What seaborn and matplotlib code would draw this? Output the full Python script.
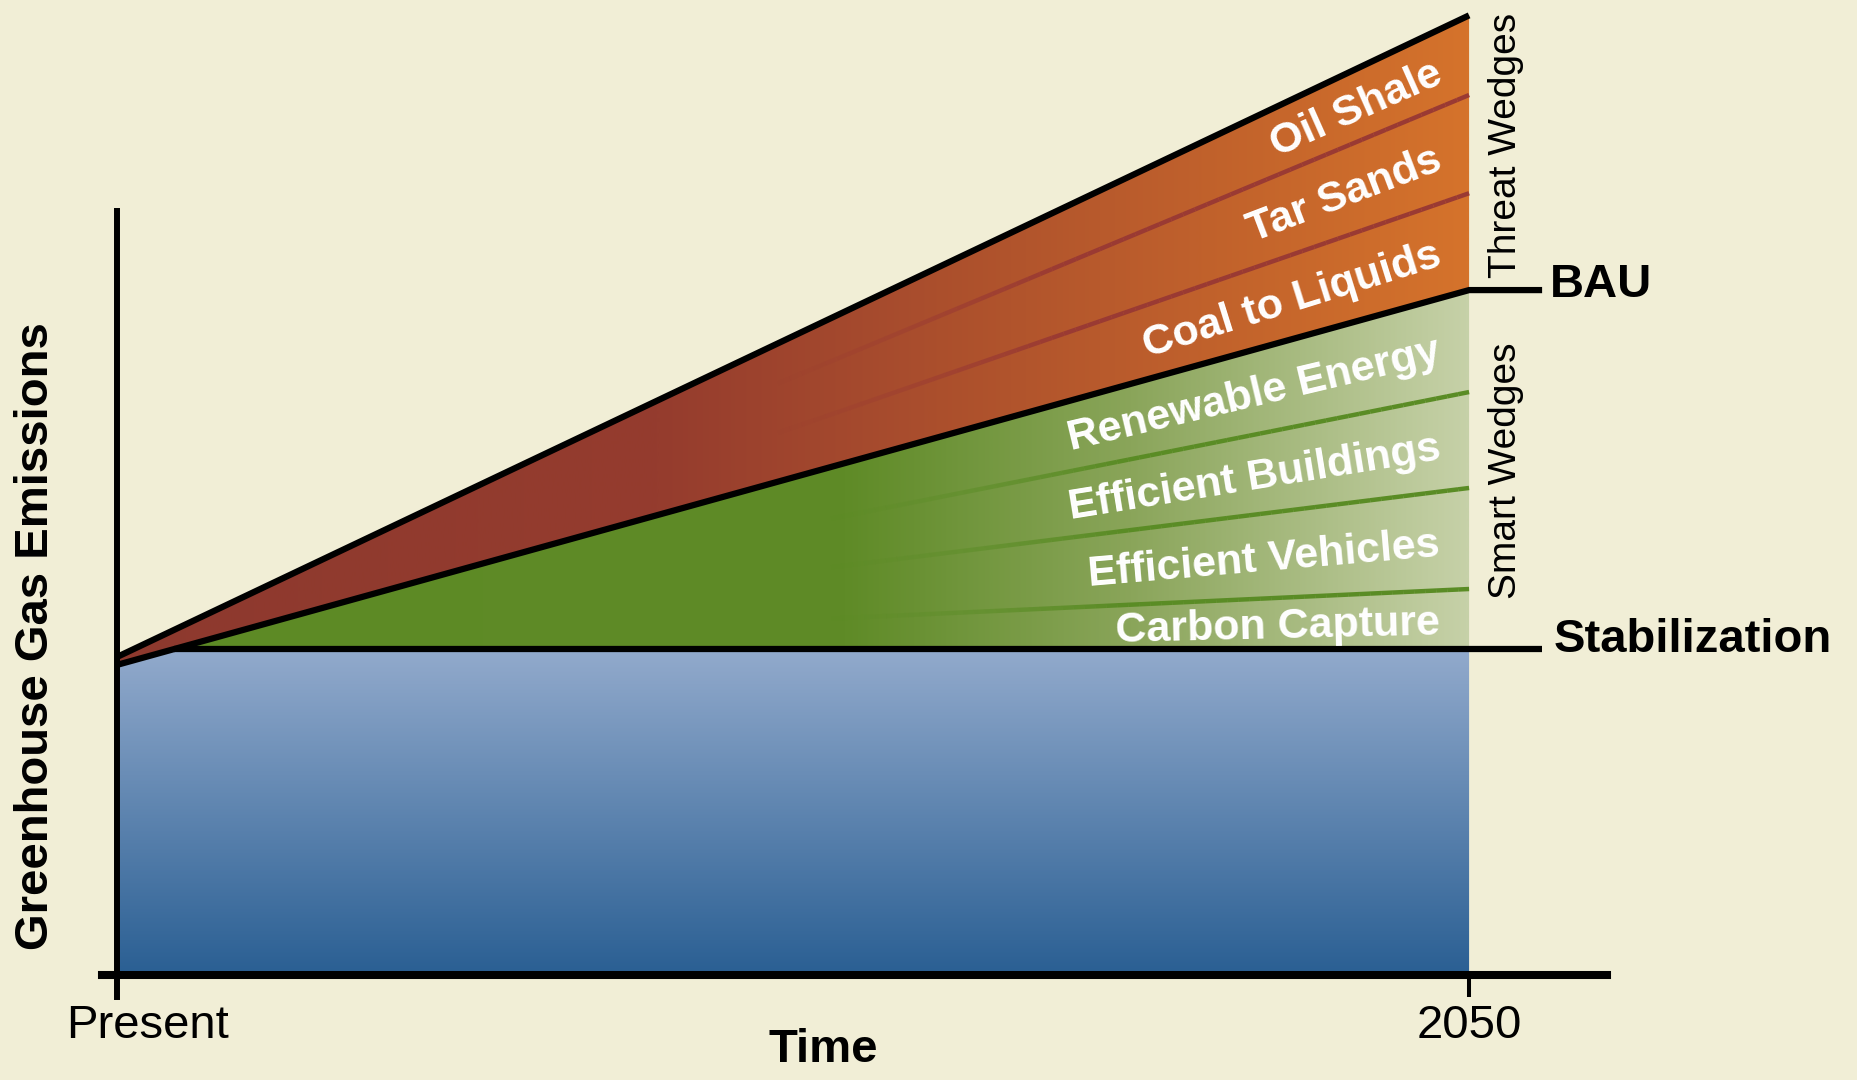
import numpy as np
import pandas as pd
import seaborn as sns
import matplotlib.pyplot as plt
from matplotlib.colors import LinearSegmentedColormap, to_rgba
from matplotlib.collections import LineCollection
from matplotlib.transforms import ScaledTranslation

# データ (arbitrary emission units, stabilization level = 7)
years = [2010, 2050]
tick_labels = ["Present", "2050"]
stabilization = 7.0
bau = [6.66, 14.71]

threat_labels = ["Coal to Liquids", "Tar Sands", "Oil Shale"]
threat_start = [0.06, 0.06, 0.05]   # wedge widths at present
threat_end = [2.08, 2.11, 1.71]     # wedge widths in 2050

smart_labels = ["Carbon Capture", "Efficient Vehicles", "Efficient Buildings", "Renewable Energy"]
smart_end = [1.29, 2.17, 2.06, 2.19]

bg = "#f1eed6"
sns.set_theme(style="white")
plt.rcParams["font.family"] = ["Liberation Sans", "DejaVu Sans"]
plt.rcParams["text.color"] = "black"

fig = plt.figure(figsize=(18.58, 10.80), dpi=100, facecolor=bg)
ax = fig.add_axes([117 / 1858, 105 / 1080, 1490 / 1858, 975 / 1080])
ax.set_facecolor(bg)

x0, x1 = years
x_ext = 2052.16          # end of the BAU / stabilization leader lines
# BAU crosses the stabilization level here
x_cross = x0 + (stabilization - bau[0]) / (bau[1] - bau[0]) * (x1 - x0)

# wedge boundaries (value at start, value in 2050)
threat_bounds = [np.array(bau)]
for s, e in zip(threat_start, threat_end):
    threat_bounds.append(threat_bounds[-1] + np.array([s, e]))
smart_bounds = [np.array([stabilization, stabilization])]
for e in smart_end:
    smart_bounds.append(smart_bounds[-1] + np.array([0.0, e]))
top = threat_bounds[-1]


def gradient_fill(xs, lo, hi, colors, stops, extent, vertical=False):
    poly = ax.fill_between(xs, lo, hi, facecolor="none", edgecolor="none")
    cmap = LinearSegmentedColormap.from_list("g", list(zip(stops, colors)))
    ramp = np.linspace(0, 1, 512)
    grad = ramp[:, None] if vertical else ramp[None, :]
    im = ax.imshow(grad, cmap=cmap, extent=extent, origin="lower",
                   aspect="auto", interpolation="bilinear", zorder=1)
    im.set_clip_path(poly.get_paths()[0], transform=ax.transData)


# blue: below stabilization
gradient_fill([x0, x_cross, x1], 0, [bau[0], stabilization, stabilization],
              ["#2a5f93", "#92aacc"], [0, 1], (x0, x1, 0, stabilization), vertical=True)
# red: threat wedges
gradient_fill([x0, x1], bau, top,
              ["#8d392e", "#953c2e", "#d5732b"], [0, 0.4, 1], (x0, x1, 0, top[1]))
# green: smart wedges
gradient_fill([x_cross, x1], [stabilization, stabilization], [stabilization, bau[1]],
              ["#5d8a25", "#5f8b27", "#8aa55a", "#c6d1a8"], [0, 0.54, 0.75, 1.0],
              (x0, x1, 0, bau[1]))


def faded_line(xa, ya, xb, yb, color, fade_from, fade_to):
    xs = np.linspace(x0 + fade_from * (x1 - x0), xb, 60)
    ys = ya + (yb - ya) * (xs - xa) / (xb - xa)
    pts = np.column_stack([xs, ys]).reshape(-1, 1, 2)
    segs = np.concatenate([pts[:-1], pts[1:]], axis=1)
    alpha = np.clip((xs[:-1] - (x0 + fade_from * (x1 - x0))) / ((fade_to - fade_from) * (x1 - x0)), 0, 1)
    rgba = np.tile(to_rgba(color), (len(segs), 1))
    rgba[:, 3] = alpha
    ax.add_collection(LineCollection(segs, colors=rgba, linewidths=3.2, zorder=2, capstyle="butt"))


for b in threat_bounds[1:-1]:
    faded_line(x0, b[0], x1, b[1], "#9a3a33", 0.48, 0.70)
for b in smart_bounds[1:-1]:
    faded_line(x_cross, b[0], x1, b[1], "#5a8c25", 0.52, 0.74)

# black outlines
lines = pd.DataFrame({
    "line": ["top", "top", "bau", "bau", "bau", "stab", "stab"],
    "year": [x0, x1, x0, x1, x_ext, x_cross, x_ext],
    "value": [top[0], top[1], bau[0], bau[1], bau[1], stabilization, stabilization],
})
sns.lineplot(data=lines, x="year", y="value", units="line", estimator=None, sort=False,
             color="black", linewidth=4.5, ax=ax, zorder=4, legend=False)
for l in ax.lines:
    l.set_solid_joinstyle("miter")
    l.set_solid_capstyle("butt")

# wedge labels
x_txt = 2049.14


def wedge_label(lo, hi, xs, label):
    m0 = (lo[0] + hi[0]) / 2
    m1 = (lo[1] + hi[1]) / 2
    slope = (m1 - m0) / (x1 - xs)
    y = m0 + slope * (x_txt - xs)
    ax.text(x_txt, y - 0.08, label, color="white", fontsize=31, fontweight="bold",
            ha="right", va="center", rotation=np.degrees(np.arctan(slope)),
            rotation_mode="anchor", transform_rotates_text=True, zorder=6)


for i, lab in enumerate(threat_labels):
    wedge_label(threat_bounds[i], threat_bounds[i + 1], x0, lab)
for i, lab in enumerate(smart_labels):
    wedge_label(smart_bounds[i], smart_bounds[i + 1], x_cross, lab)

# right-hand annotations
ax.text(2052.40, bau[1] - 0.15, "BAU", fontsize=34, fontweight="bold", ha="left", va="baseline")
ax.text(2052.49, stabilization - 0.06, "Stabilization", fontsize=34, fontweight="bold",
        ha="left", va="baseline")
ax.text(2051.09, 17.82, "Threat Wedges", fontsize=28, rotation=90,
        ha="center", va="center")
ax.text(2051.09, 10.82, "Smart Wedges", fontsize=28, rotation=90,
        ha="center", va="center")

# axes
ax.set_xlim(x0, 2054.08)
ax.set_ylim(0, 20.94)
for s in ["top", "right"]:
    ax.spines[s].set_visible(False)
ax.spines["left"].set_linewidth(4.3)
ax.spines["left"].set_bounds(-0.47, 16.4)
ax.spines["bottom"].set_linewidth(5.8)
ax.spines["bottom"].set_bounds(2009.56, 2054.08)
for s in ["left", "bottom"]:
    ax.spines[s].set_color("black")
    ax.spines[s].set_zorder(5)
ax.set_xticks(years, tick_labels)
ax.set_yticks([])
ax.tick_params(axis="x", direction="out", length=15.8, width=2.9, color="black",
               labelsize=34, pad=5, bottom=True, labelcolor="black")
lbl = ax.get_xticklabels()[0]
lbl.set_transform(lbl.get_transform() + ScaledTranslation(0.30, 0, fig.dpi_scale_trans))

ax.set_xlabel("Time", fontsize=34, fontweight="bold", color="black")
ax.xaxis.set_label_coords(0.474, -0.0544)
ax.set_ylabel("Greenhouse Gas Emissions", fontsize=34, fontweight="bold", color="black")
ax.yaxis.label.set_va("center")
ax.yaxis.set_label_coords(-0.0544, 0.3477)

fig.savefig("out.png", dpi=100, facecolor=bg)
